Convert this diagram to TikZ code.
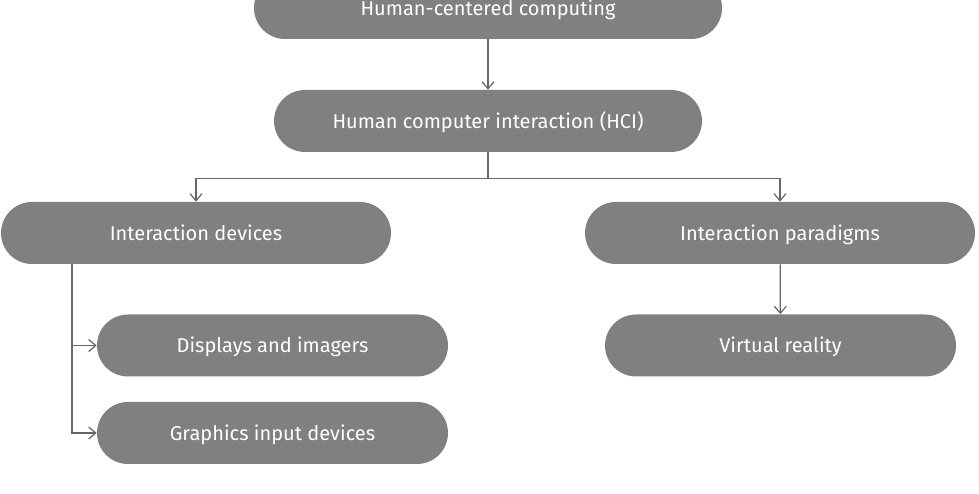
\documentclass[tikz,border=0pt]{standalone}
\usepackage{fontspec}
\setmainfont{Fira Sans}
\usepackage{xcolor}
\usepackage{tikz}
\usetikzlibrary{calc,arrows.meta,shapes}

\definecolor{boxgray}{HTML}{808080}
\definecolor{linegray}{HTML}{666666}

\begin{document}
\begin{tikzpicture}[
    pill/.style={fill=boxgray, text=white, rounded corners=0.62cm,
      minimum height=1.24cm, text height=2.0ex, text depth=0.45ex,
      font=\fontsize{11.4pt}{13pt}\selectfont},
    link/.style={draw=linegray, line width=0.7pt, -{Straight Barb[length=1.4mm,width=2.4mm]}}
    ]
    \useasboundingbox (0,0) rectangle (19.58,9.88);
    \node[pill, minimum width=9.36cm] (hcc) at (9.76,9.72) {Human-centered computing};
    \node[pill, minimum width=8.56cm] (hci) at (9.76,7.46) {Human computer interaction (HCI)};
    \node[pill, minimum width=7.8cm] (devices) at (3.92,5.22) {Interaction devices};
    \node[pill, minimum width=7.8cm] (paradigms) at (15.60,5.22) {Interaction paradigms};
    \node[pill, minimum width=7.02cm] (displays) at (5.45,2.97) {Displays and imagers};
    \node[pill, minimum width=7.02cm] (input) at (5.45,1.22) {Graphics input devices};
    \node[pill, minimum width=7.02cm] (vr) at (15.61,2.97) {Virtual reality};
    \coordinate (trunk) at (1.44,4.60);

    \draw[link] (hcc) -- (hci);
    \draw[link] (hci.south) -- ++(0,-0.52) -| (devices.north);
    \draw[link] (hci.south) -- ++(0,-0.52) -| (paradigms.north);
    \draw[link] (trunk) |- (displays.west);
    \draw[link] (trunk) |- (input.west);
    \draw[link] (paradigms) -- (vr);
  \end{tikzpicture}
\end{document}
